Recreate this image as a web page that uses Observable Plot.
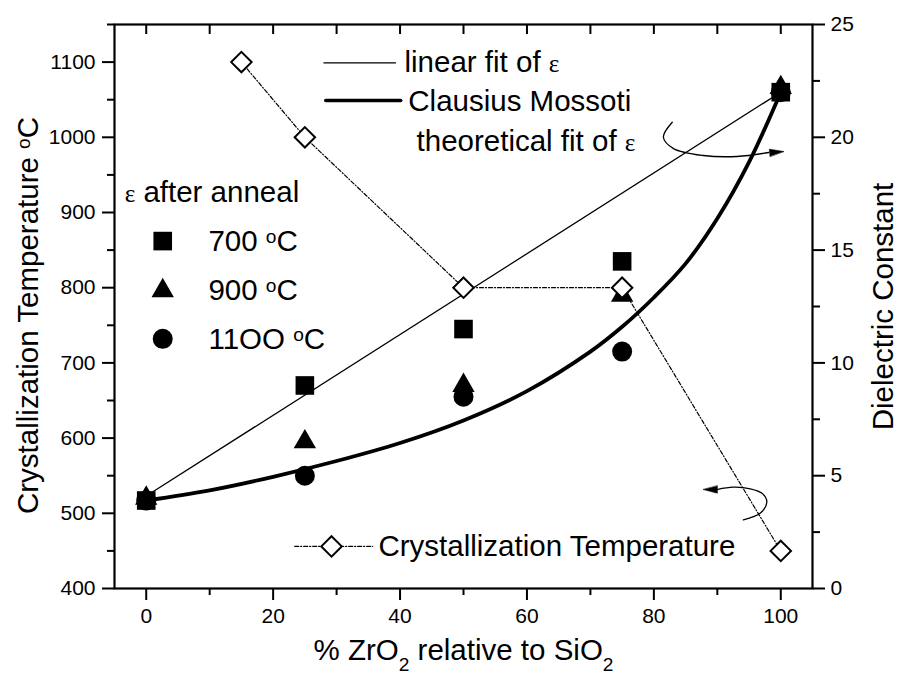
<!DOCTYPE html>
<html>
<head>
<meta charset="utf-8">
<script src="https://cdn.jsdelivr.net/npm/d3@7"></script>
<script src="https://cdn.jsdelivr.net/npm/@observablehq/plot@0.6"></script>
<style>
  body { margin: 0; background: #fff; }
  #chart svg { display: block; }
</style>
</head>
<body>
<div id="chart"></div>
<script>
// ---- data ----
const zrPercent = [0, 25, 50, 75, 100];          // % ZrO2 relative to SiO2
const eps700  = [3.9, 9.0, 11.5, 14.5, 22.0];    // dielectric constant after 700 °C anneal
const eps900  = [4.0, 6.5, 9.0, 13.0, 22.2];     // after 900 °C anneal
const eps1100 = [3.9, 5.0, 8.5, 10.5, 22.0];     // after 1100 °C anneal

const crystX = [15, 25, 50, 75, 100];            // crystallization temperature points
const crystT = [1100, 1000, 800, 800, 450];

const linearFitX   = [0, 100];
const linearFitEps = [4.1, 22.0];

const cmX   = [0, 10, 20, 30, 40, 50, 60, 70, 75, 80, 85, 90, 95, 100];
const cmEps = [3.9, 4.35, 4.95, 5.65, 6.45, 7.45, 8.75, 10.5, 11.6, 12.9, 14.4, 16.4, 18.9, 22.0];

// ---- ticks ----
const xMajorTicks = [0, 20, 40, 60, 80, 100];
const xMinorTicks = [10, 30, 50, 70, 90];
const xTopTicks   = [0, 10, 20, 30, 40, 50, 60, 70, 80, 90, 100];
const tMajorTicks = [400, 500, 600, 700, 800, 900, 1000, 1100];
const tMinorTicks = [450, 550, 650, 750, 850, 950, 1050, 1150];
const epsMajorTicks = [0, 5, 10, 15, 20, 25];
const epsMinorTicks = [2.5, 7.5, 12.5, 17.5, 22.5];

// ---- annotations (legend + curved arrows) in data units ----
const legendText = [
  {label: "linear fit of ε", x: 40.7, t: 1100},
  {label: "Clausius Mossoti", x: 41.3, t: 1047},
  {label: "theoretical fit of ε", x: 42.6, t: 995},
  {label: "ε after anneal", x: -3.4, t: 927},
  {label: "700 ^oC", x: 9.8, t: 862},
  {label: "900 ^oC", x: 9.8, t: 796},
  {label: "11OO ^oC", x: 9.8, t: 731},
  {label: "Crystallization Temperature", x: 36.6, t: 456}
];
const legendThinX = [28.0, 39.3], legendThinT = [1099, 1099];
const legendThickX = [28.3, 40.1], legendThickT = [1049, 1049];
const legendCrystX = [23.4, 35.7], legendCrystT = [456, 456];
const legendDiamond = [{x: 29.2, t: 456}];
const legendSquare = [{x: 2.6, t: 862}];
const legendTriangle = [{x: 2.6, t: 796}];
const legendCircle = [{x: 2.6, t: 732}];

const arrow1X = [82.9, 81.5, 83.1, 87.8, 93.1, 98.1];
const arrow1T = [1020, 1000, 985, 975.8, 974.5, 979.8];
const arrow2X = [94.1, 96.8, 97.8, 97.1, 95.2, 92.5, 89.95];
const arrow2T = [491.4, 500.4, 514.8, 526.3, 532.6, 534.7, 531.6];
const arrowHeads = [{x: 100.45, t: 981.1, angle: 85}, {x: 87.8, t: 531.6, angle: -90}];

// right axis (0–25) shares the frame with the left axis (400–1150)
const epsToT = e => 400 + e * 30;
const tToEps = t => (t - 400) / 30;

const headShape = {
  draw(context, l) {
    context.moveTo(0, -l);
    context.lineTo(-3.6, 0);
    context.lineTo(3.6, 0);
    context.closePath();
  }
};

const fs = 29.5;
const blank = () => "";
const plain = d => String(d);

const chart = Plot.plot({
  width: 899,
  height: 680,
  marginTop: 24,
  marginRight: 87,
  marginBottom: 92,
  marginLeft: 114,
  x: {domain: [-5, 105], axis: null},
  y: {domain: [400, 1150], axis: null},
  style: {fontFamily: '"Liberation Sans", Arial, sans-serif', fontSize: "21px", color: "black", background: "white"},
  marks: [
    // axes
    Plot.axisX(xMajorTicks, {anchor: "bottom", tickSize: 12, tickPadding: 8, strokeWidth: 2, fontSize: 21, tickFormat: plain, label: null}),
    Plot.axisX(xMinorTicks, {anchor: "bottom", tickSize: 7, strokeWidth: 2, tickFormat: blank, label: null}),
    Plot.ruleX(xTopTicks, {x: d => d, insetBottom: 554, strokeWidth: 2}),
    Plot.axisY(tMajorTicks, {anchor: "left", tickSize: 12, tickPadding: 7, strokeWidth: 2, fontSize: 21, tickFormat: plain, label: null}),
    Plot.axisY(tMinorTicks, {anchor: "left", tickSize: 7, strokeWidth: 2, tickFormat: blank, label: null}),
    Plot.axisY(epsMajorTicks.map(epsToT), {anchor: "right", tickSize: 12, tickPadding: 6, strokeWidth: 2, fontSize: 21, tickFormat: t => String(Math.round(tToEps(t))), label: null}),
    Plot.axisY(epsMinorTicks.map(epsToT), {anchor: "right", tickSize: 7, strokeWidth: 2, tickFormat: blank, label: null}),
    Plot.frame({strokeWidth: 2.2}),

    // axis titles
    Plot.text(["% ZrO_2 relative to SiO_2"], {frameAnchor: "bottom", dy: 71, fontSize: fs, textAnchor: "middle"}),
    Plot.text(["Crystallization Temperature ^oC"], {frameAnchor: "left", dx: -86, dy: 9, rotate: -90, fontSize: fs, textAnchor: "middle"}),
    Plot.text(["Dielectric Constant"], {frameAnchor: "right", dx: 71, dy: 0, rotate: -90, fontSize: fs, textAnchor: "middle"}),

    // fits
    Plot.line(linearFitX, {x: d => d, y: (d, i) => epsToT(linearFitEps[i]), strokeWidth: 1.3}),
    Plot.line(cmX, {x: d => d, y: (d, i) => epsToT(cmEps[i]), curve: "catmull-rom", strokeWidth: 3.8}),

    // crystallization temperature line
    Plot.line(crystX, {x: d => d, y: (d, i) => crystT[i], strokeWidth: 1.2, strokeDasharray: "4,2,1,2"}),

    // curved annotation arrows
    Plot.line(arrow1X, {x: d => d, y: (d, i) => arrow1T[i], curve: "catmull-rom", strokeWidth: 1.3}),
    Plot.line(arrow2X, {x: d => d, y: (d, i) => arrow2T[i], curve: "catmull-rom", strokeWidth: 1.3}),
    Plot.vector(arrowHeads, {x: "x", y: "t", rotate: "angle", length: 14, anchor: "end", shape: headShape, fill: "black", stroke: "black", strokeWidth: 0.6}),

    // dielectric constant markers
    Plot.dot(zrPercent, {x: d => d, y: (d, i) => epsToT(eps1100[i]), symbol: "circle", r: 10, fill: "black"}),
    Plot.dot(zrPercent, {x: d => d, y: (d, i) => epsToT(eps900[i]), symbol: "triangle", r: 8.3, fill: "black"}),
    Plot.dot(zrPercent, {x: d => d, y: (d, i) => epsToT(eps700[i]), symbol: "square", r: 10.5, fill: "black"}),

    // crystallization diamonds
    Plot.dot(crystX, {x: d => d, y: (d, i) => crystT[i], symbol: "diamond2", r: 9.2, fill: "white", stroke: "black", strokeWidth: 2}),

    // legend
    Plot.line(legendThinX, {x: d => d, y: (d, i) => legendThinT[i], strokeWidth: 1.3}),
    Plot.line(legendThickX, {x: d => d, y: (d, i) => legendThickT[i], strokeWidth: 3.6}),
    Plot.line(legendCrystX, {x: d => d, y: (d, i) => legendCrystT[i], strokeWidth: 1.2, strokeDasharray: "4,2,1,2"}),
    Plot.dot(legendDiamond, {x: "x", y: "t", symbol: "diamond2", r: 9.2, fill: "white", stroke: "black", strokeWidth: 2}),
    Plot.dot(legendSquare, {x: "x", y: "t", symbol: "square", r: 10.5, fill: "black"}),
    Plot.dot(legendTriangle, {x: "x", y: "t", symbol: "triangle", r: 8.3, fill: "black"}),
    Plot.dot(legendCircle, {x: "x", y: "t", symbol: "circle", r: 10, fill: "black"}),
    Plot.text(legendText, {x: "x", y: "t", text: "label", textAnchor: "start", fontSize: fs})
  ]
});

// rich text: _x subscript, ^x superscript, ε in a serif face
function richText(svg) {
  const NS = "http://www.w3.org/2000/svg";
  for (const el of svg.querySelectorAll("text")) {
    if (el.querySelector("tspan")) continue;
    const s = el.textContent;
    if (!/[_^ε]/.test(s)) continue;
    el.textContent = "";
    const parts = s.match(/_.|\^.|ε|[^_^ε]+/g);
    for (const p of parts) {
      const ts = document.createElementNS(NS, "tspan");
      if (p[0] === "_") {
        ts.textContent = p[1];
        ts.setAttribute("font-size", "65%");
        ts.setAttribute("baseline-shift", "sub");
      } else if (p[0] === "^") {
        ts.textContent = p[1];
        ts.setAttribute("font-size", "65%");
        ts.setAttribute("baseline-shift", "40%");
      } else if (p === "ε") {
        ts.textContent = p;
        ts.setAttribute("font-family", '"Liberation Serif", "DejaVu Serif", serif');
        ts.setAttribute("font-size", "85%");
      } else {
        ts.textContent = p;
      }
      el.appendChild(ts);
    }
  }
}
richText(chart);
document.getElementById("chart").append(chart);
</script>
</body>
</html>
